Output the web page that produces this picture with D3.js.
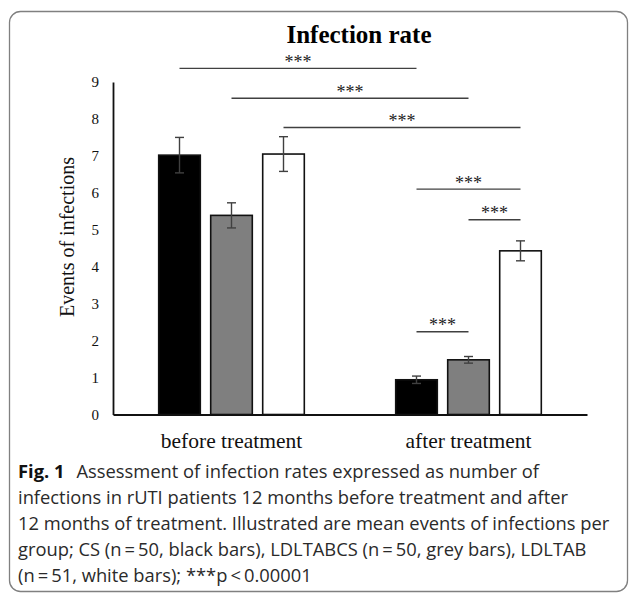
<!DOCTYPE html>
<html><head><meta charset="utf-8">
<script src="https://cdn.jsdelivr.net/npm/d3@7"></script>
<style>body{margin:0;background:#fff} svg{display:block}</style>
</head><body>
<svg id="c" width="630" height="597"></svg>
<script>
// ---------- data ----------
const groups = ["before treatment", "after treatment"];
const series = ["CS", "LDLTABCS", "LDLTAB"];
const meanBefore = [7.02, 5.39, 7.05];
const meanAfter  = [0.94, 1.48, 4.43];
const errBefore  = [0.48, 0.34, 0.47];
const errAfter   = [0.10, 0.09, 0.27];
const barColors  = ["#000000", "#7f7f7f", "#ffffff"];
const yTicks = [0, 1, 2, 3, 4, 5, 6, 7, 8, 9];
// significance brackets: from (group, series) to (group, series) at level
const sigGroupA  = ["before treatment", "before treatment", "before treatment", "after treatment", "after treatment", "after treatment"];
const sigSeriesA = ["CS", "LDLTABCS", "LDLTAB", "CS", "LDLTABCS", "CS"];
const sigGroupB  = ["after treatment", "after treatment", "after treatment", "after treatment", "after treatment", "after treatment"];
const sigSeriesB = ["CS", "LDLTABCS", "LDLTAB", "LDLTAB", "LDLTAB", "LDLTABCS"];
const sigLevel   = [9.37, 8.56, 7.77, 6.10, 5.27, 2.24];
const sigLabel   = "***";
const title = "Infection rate";
const yLabel = "Events of infections";
const captionBold = "Fig. 1";
const captionLines = [
  "Assessment of infection rates expressed as number of",
  "infections in rUTI patients 12 months before treatment and after",
  "12 months of treatment. Illustrated are mean events of infections per",
  "group; CS (n\u2009=\u200950, black bars), LDLTABCS (n\u2009=\u200950, grey bars), LDLTAB",
  "(n\u2009=\u200951, white bars); ***p\u2009<\u20090.00001"
];

// ---------- layout ----------
const svg = d3.select("#c");
const serif = "'Liberation Serif','Times New Roman',serif";
const sans = "'Open Sans','Noto Sans',sans-serif";

svg.append("rect").attr("x", 9.5).attr("y", 11.5).attr("width", 618).attr("height", 580)
  .attr("rx", 11).attr("fill", "none").attr("stroke", "#808080").attr("stroke-width", 1.3);

const y = d3.scaleLinear().domain([0, 9]).range([414.5, 82]);
const x0 = d3.scaleBand().domain(groups).range([113, 587]).padding(0);
const x1 = d3.scaleBand().domain(series).range([-78, 78]).paddingInner(0.2).paddingOuter(0.1);
const cx = (g, s) => x0(g) + x0.bandwidth() / 2 + x1(s) + x1.bandwidth() / 2;

const rows = [];
groups.forEach((g, gi) => series.forEach((s, si) => {
  rows.push({g, s, si, v: gi === 0 ? meanBefore[si] : meanAfter[si], e: gi === 0 ? errBefore[si] : errAfter[si]});
}));

// title
svg.append("text").attr("x", 359).attr("y", 43).attr("text-anchor", "middle")
  .style("font-family", serif).style("font-weight", "bold").style("font-size", "25px").text(title);

// bars
svg.append("g").selectAll("rect").data(rows).join("rect")
  .attr("x", d => x0(d.g) + x0.bandwidth() / 2 + x1(d.s))
  .attr("width", x1.bandwidth())
  .attr("y", d => y(d.v))
  .attr("height", d => y(0) - y(d.v))
  .attr("fill", d => barColors[d.si])
  .attr("stroke", "#111").attr("stroke-width", 1.6);

// error bars
const eb = svg.append("g").attr("stroke", "#404040").attr("stroke-width", 1.4);
rows.forEach(d => {
  const c = cx(d.g, d.s);
  eb.append("line").attr("x1", c).attr("x2", c).attr("y1", y(d.v + d.e)).attr("y2", y(d.v - d.e));
  eb.append("line").attr("x1", c - 4.5).attr("x2", c + 4.5).attr("y1", y(d.v + d.e)).attr("y2", y(d.v + d.e));
  eb.append("line").attr("x1", c - 4.5).attr("x2", c + 4.5).attr("y1", y(d.v - d.e)).attr("y2", y(d.v - d.e));
});

// axes
const ya = svg.append("g").attr("transform", "translate(113,0)")
  .call(d3.axisLeft(y).tickValues(yTicks).tickSize(0).tickPadding(14).tickFormat(d3.format("d")));
ya.select(".domain").attr("stroke", "#111").attr("stroke-width", 1.8);
ya.selectAll("text").style("font-family", serif).style("font-size", "15px").attr("fill", "#111");

const xa = svg.append("g").attr("transform", "translate(0,414.5)")
  .call(d3.axisBottom(x0).tickSize(0).tickPadding(18));
xa.select(".domain").attr("stroke", "#111").attr("stroke-width", 1.8);
xa.selectAll("text").style("font-family", serif).style("font-size", "21.5px").attr("fill", "#111");

// y label
svg.append("text").attr("transform", "translate(74,237) rotate(-90)").attr("text-anchor", "middle")
  .style("font-family", serif).style("font-size", "20px").attr("fill", "#111").text(yLabel);

// significance lines
const sg = svg.append("g");
sigLevel.forEach((lv, i) => {
  const xa_ = cx(sigGroupA[i], sigSeriesA[i]), xb = cx(sigGroupB[i], sigSeriesB[i]);
  sg.append("line").attr("x1", xa_).attr("x2", xb).attr("y1", y(lv)).attr("y2", y(lv))
    .attr("stroke", "#404040").attr("stroke-width", 1.4);
  sg.append("text").attr("x", (xa_ + xb) / 2).attr("y", y(lv) - 0.5).attr("text-anchor", "middle")
    .style("font-family", serif).style("font-size", "18px").attr("fill", "#222").text(sigLabel);
});

// caption
const cap = svg.append("g").style("font-family", sans).attr("fill", "#2a2a2a");
const probe = cap.append("text").style("font-size", "20px").text(captionLines[2]);
const fs = 20 * 592 / probe.node().getComputedTextLength();
probe.remove();
const baselines = [478, 504, 530, 556, 582];
captionLines.forEach((t, i) => {
  const tx = cap.append("text").attr("x", 18).attr("y", baselines[i]).style("font-size", fs + "px");
  if (i === 0) {
    tx.append("tspan").style("font-weight", "bold").attr("fill", "#111").text(captionBold);
    tx.append("tspan").attr("dx", 12).text(t);
  } else tx.text(t);
});
</script>
</body></html>
